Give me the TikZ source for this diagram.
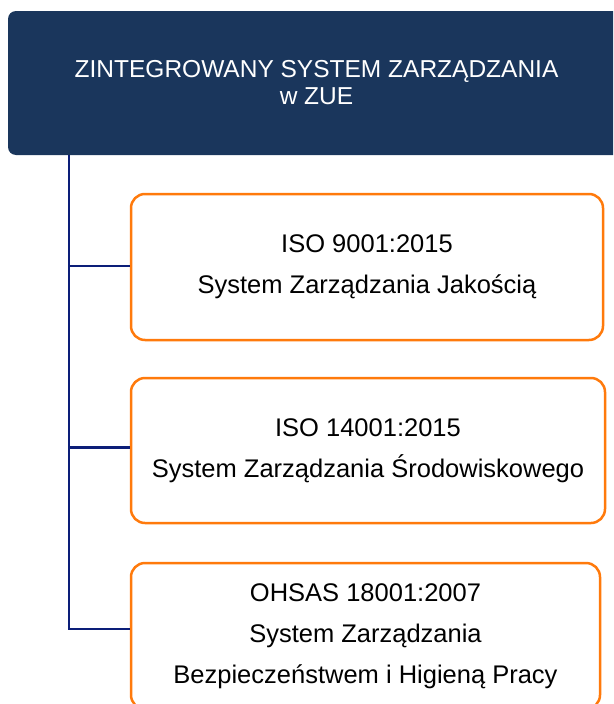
\documentclass[tikz,border=0pt]{standalone}
\usepackage{fontspec}
\setmainfont{Liberation Sans}
\definecolor{headColor}{RGB}{26,54,92}
\definecolor{normColor}{RGB}{255,122,12}
\definecolor{linkColor}{RGB}{12,30,120}
\tikzset{
  headbox/.style={fill=headColor,text=white,rounded corners=8pt,inner sep=0pt,
    minimum width=617pt,minimum height=144pt,align=center,
    font=\fontsize{24.5}{27}\selectfont},
  normbox/.style={draw=normColor,fill=white,line width=2.5pt,rounded corners=14pt,
    inner sep=0pt,align=center,font=\fontsize{25.5}{41}\selectfont},
  link/.style={draw=linkColor,line width=2.5pt}
}
\begin{document}
\begin{tikzpicture}[x=1pt,y=-1pt]
\path[use as bounding box] (0,0) rectangle (613,704);
\clip (0,0) rectangle (613,704);

% naglowek
\node[headbox] (zsz) at (316.5,83) {ZINTEGROWANY SYSTEM ZARZĄDZANIA\\w ZUE};

% normy
\node[normbox,minimum width=472pt,minimum height=146pt] (iso9) at (367,267)
  {ISO 9001:2015\\System Zarządzania Jakością};
\node[normbox,minimum width=474pt,minimum height=145pt] (iso14) at (368,450.5)
  {ISO 14001:2015\\System Zarządzania Środowiskowego};
\node[normbox,minimum width=469pt,minimum height=146pt] (ohsas) at (365.5,636)
  {OHSAS 18001:2007\\System Zarządzania\\Bezpieczeństwem i Higieną Pracy};

% polaczenia
\coordinate (spine) at (69,0);
\coordinate (in9) at ([yshift=1pt]iso9.west);
\coordinate (in14) at ([yshift=3pt]iso14.west);
\coordinate (inoh) at ([yshift=7pt]ohsas.west);
\path[link] (zsz.south -| spine) |- (inoh);
\path[link] (spine |- in9) -- (in9);
\path[link] (spine |- in14) -- (in14);
\end{tikzpicture}
\end{document}
